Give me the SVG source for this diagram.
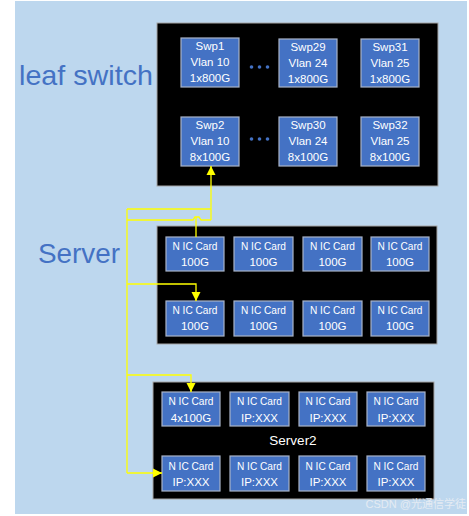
<svg xmlns="http://www.w3.org/2000/svg" width="469" height="516" viewBox="0 0 469 516">
<defs>
<style>
.bg{fill:#BDD7EE}
.box{fill:#000;stroke:#a6a6a6;stroke-width:1}
.card{fill:#4472C4;stroke:#a9b4c8;stroke-width:1.2}
.ct{font-family:"Liberation Sans",Arial,sans-serif;font-size:11.5px;fill:#fff;text-anchor:middle}
.big{font-family:"Liberation Sans",Arial,sans-serif;fill:#4472C4}
.wire{fill:none;stroke:#ffff00;stroke-width:1.3}
.dot{fill:#4472C4}
</style>
<marker id="ah" viewBox="0 0 10 10" refX="10" refY="5" markerWidth="9" markerHeight="10" markerUnits="userSpaceOnUse" orient="auto">
<path d="M0,0 L10,5 L0,10 Z" fill="#ffff00"/>
</marker>
</defs>
<rect x="0" y="0" width="469" height="516" fill="#fff"/>
<rect class="bg" x="15" y="1" width="452" height="513"/>
<text class="big" x="19" y="85" font-size="28" textLength="134" lengthAdjust="spacingAndGlyphs">leaf switch</text>
<text class="big" x="38" y="263" font-size="27" textLength="82" lengthAdjust="spacingAndGlyphs">Server</text>

<g id="leaf">
<rect class="box" x="157" y="23" width="281" height="163"/>
<g id="swp1"><rect class="card" x="181" y="38" width="58" height="49"/><text class="ct" x="210" y="50">Swp1</text><text class="ct" x="210" y="66">Vlan 10</text><text class="ct" x="210" y="82">1x800G</text></g>
<g id="swp29"><rect class="card" x="279" y="39" width="58" height="48"/><text class="ct" x="308" y="51">Swp29</text><text class="ct" x="308" y="67">Vlan 24</text><text class="ct" x="308" y="83">1x800G</text></g>
<g id="swp31"><rect class="card" x="361" y="39" width="58" height="48"/><text class="ct" x="390" y="51">Swp31</text><text class="ct" x="390" y="67">Vlan 25</text><text class="ct" x="390" y="83">1x800G</text></g>
<g id="swp2"><rect class="card" x="181" y="117" width="58" height="49"/><text class="ct" x="210" y="129">Swp2</text><text class="ct" x="210" y="145">Vlan 10</text><text class="ct" x="210" y="161">8x100G</text></g>
<g id="swp30"><rect class="card" x="279" y="117" width="58" height="49"/><text class="ct" x="308" y="129">Swp30</text><text class="ct" x="308" y="145">Vlan 24</text><text class="ct" x="308" y="161">8x100G</text></g>
<g id="swp32"><rect class="card" x="361" y="117" width="58" height="49"/><text class="ct" x="390" y="129">Swp32</text><text class="ct" x="390" y="145">Vlan 25</text><text class="ct" x="390" y="161">8x100G</text></g>
<g id="dots1"><circle class="dot" cx="251.5" cy="67" r="1.8"/><circle class="dot" cx="259.5" cy="67" r="1.8"/><circle class="dot" cx="267.5" cy="67" r="1.8"/></g>
<g id="dots2"><circle class="dot" cx="251.5" cy="139" r="1.8"/><circle class="dot" cx="259.5" cy="139" r="1.8"/><circle class="dot" cx="267.5" cy="139" r="1.8"/></g>
</g>

<g id="server1">
<rect class="box" x="157" y="226" width="280" height="118"/>
<g id="nic1"><rect class="card" x="166" y="237" width="58" height="34"/><text class="ct" x="195" y="250" textLength="45" lengthAdjust="spacingAndGlyphs">N IC Card</text><text class="ct" x="195" y="266">100G</text></g>
<g id="nic2"><rect class="card" x="234" y="237" width="59" height="34"/><text class="ct" x="263.5" y="250" textLength="45" lengthAdjust="spacingAndGlyphs">N IC Card</text><text class="ct" x="263.5" y="266">100G</text></g>
<g id="nic3"><rect class="card" x="303" y="237" width="59" height="34"/><text class="ct" x="332.5" y="250" textLength="45" lengthAdjust="spacingAndGlyphs">N IC Card</text><text class="ct" x="332.5" y="266">100G</text></g>
<g id="nic4"><rect class="card" x="371" y="237" width="58" height="34"/><text class="ct" x="400" y="250" textLength="45" lengthAdjust="spacingAndGlyphs">N IC Card</text><text class="ct" x="400" y="266">100G</text></g>
<g id="nic5"><rect class="card" x="166" y="301" width="58" height="35"/><text class="ct" x="195" y="314" textLength="45" lengthAdjust="spacingAndGlyphs">N IC Card</text><text class="ct" x="195" y="330">100G</text></g>
<g id="nic6"><rect class="card" x="234" y="301" width="59" height="35"/><text class="ct" x="263.5" y="314" textLength="45" lengthAdjust="spacingAndGlyphs">N IC Card</text><text class="ct" x="263.5" y="330">100G</text></g>
<g id="nic7"><rect class="card" x="303" y="301" width="59" height="35"/><text class="ct" x="332.5" y="314" textLength="45" lengthAdjust="spacingAndGlyphs">N IC Card</text><text class="ct" x="332.5" y="330">100G</text></g>
<g id="nic8"><rect class="card" x="371" y="301" width="58" height="35"/><text class="ct" x="400" y="314" textLength="45" lengthAdjust="spacingAndGlyphs">N IC Card</text><text class="ct" x="400" y="330">100G</text></g>
</g>

<g id="server2">
<rect class="box" x="153" y="382" width="281" height="117"/>
<text class="ct" x="293" y="445" font-size="13.5" style="font-size:13.5px">Server2</text>
<g id="s2nic1"><rect class="card" x="162" y="392" width="58" height="34"/><text class="ct" x="191" y="405" textLength="45" lengthAdjust="spacingAndGlyphs">N IC Card</text><text class="ct" x="191" y="422">4x100G</text></g>
<g id="s2nic2"><rect class="card" x="230" y="392" width="59" height="34"/><text class="ct" x="259.5" y="405" textLength="45" lengthAdjust="spacingAndGlyphs">N IC Card</text><text class="ct" x="259.5" y="422">IP:XXX</text></g>
<g id="s2nic3"><rect class="card" x="299" y="392" width="58" height="34"/><text class="ct" x="328" y="405" textLength="45" lengthAdjust="spacingAndGlyphs">N IC Card</text><text class="ct" x="328" y="422">IP:XXX</text></g>
<g id="s2nic4"><rect class="card" x="367" y="392" width="58" height="34"/><text class="ct" x="396" y="405" textLength="45" lengthAdjust="spacingAndGlyphs">N IC Card</text><text class="ct" x="396" y="422">IP:XXX</text></g>
<g id="s2nic5"><rect class="card" x="162" y="456" width="58" height="35"/><text class="ct" x="191" y="470" textLength="45" lengthAdjust="spacingAndGlyphs">N IC Card</text><text class="ct" x="191" y="486">IP:XXX</text></g>
<g id="s2nic6"><rect class="card" x="230" y="456" width="59" height="35"/><text class="ct" x="259.5" y="470" textLength="45" lengthAdjust="spacingAndGlyphs">N IC Card</text><text class="ct" x="259.5" y="486">IP:XXX</text></g>
<g id="s2nic7"><rect class="card" x="299" y="456" width="58" height="35"/><text class="ct" x="328" y="470" textLength="45" lengthAdjust="spacingAndGlyphs">N IC Card</text><text class="ct" x="328" y="486">IP:XXX</text></g>
<g id="s2nic8"><rect class="card" x="367" y="456" width="58" height="35"/><text class="ct" x="396" y="470" textLength="45" lengthAdjust="spacingAndGlyphs">N IC Card</text><text class="ct" x="396" y="486">IP:XXX</text></g>
</g>

<g id="connectors">
<path class="wire" d="M211,220 V166" marker-end="url(#ah)"/>
<path class="wire" d="M127,209 H211"/>
<path class="wire" d="M127,220 H193 L195,217 H199 L201,220 H211"/>
<path class="wire" d="M196,237 V217"/>
<path class="wire" d="M127,209 V473"/>
<path class="wire" d="M127,284 H196 V301" marker-end="url(#ah)"/>
<path class="wire" d="M127,375 H191 V392" marker-end="url(#ah)"/>
<path class="wire" d="M127,473 H162" marker-end="url(#ah)"/>
</g>

<text x="466" y="508" font-family="'Liberation Sans','Noto Sans CJK SC',sans-serif" font-size="11" fill="#e4ebf3" text-anchor="end">CSDN @光通信学徒</text>
</svg>
